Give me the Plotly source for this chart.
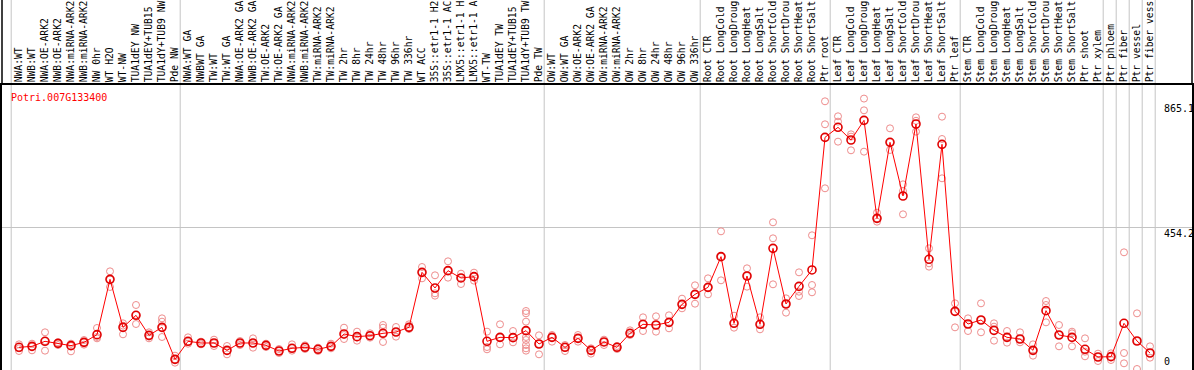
import plotly.graph_objects as go

categories = [
    "NWA:WT", "NWB:WT", "NWA:OE-ARK2", "NWB:OE-ARK2", "NWA:miRNA-ARK2", "NWB:miRNA-ARK2",
    "NW 0hr", "WT H2O", "WT-NW", "TUA1dEY NW", "TUA1dEY+TUB15", "TUA1dY+TUB9 NW", "Pde NW",
    "NWA:WT GA", "NWBWT GA", "TW:WT", "TW:WT GA", "NWA:OE-ARK2 GA", "NWB:OE-ARK2 GA",
    "TW:OE-ARK2", "TW:OE-ARK2 GA", "NWA:miRNA-ARK2", "NWB:miRNA-ARK2", "TW:miRNA-ARK2",
    "TW:miRNA-ARK2", "TW 2hr", "TW 8hr", "TW 24hr", "TW 48hr", "TW 96hr", "TW 336hr",
    "WT ACC", "35S::etr1-1 H2", "35S::etr1-1 AC", "LMX5::etr1-1 H", "LMX5::etr1-1 A",
    "WT-TW", "TUA1dEY TW", "TUA1dEY+TUB15", "TUA1dY+TUB9 TW", "Pde TW",
    "OW:WT", "OW:WT GA", "OW:OE-ARK2", "OW:OE-ARK2 GA", "OW:miRNA-ARK2", "OW:miRNA-ARK2",
    "OW 2hr", "OW 8hr", "OW 24hr", "OW 48hr", "OW 96hr", "OW 336hr",
    "Root CTR", "Root LongCold", "Root LongDroug", "Root LongHeat", "Root LongSalt",
    "Root ShortCold", "Root ShortDrou", "Root ShortHeat", "Root ShortSalt", "Ptr root",
    "Leaf CTR", "Leaf LongCold", "Leaf LongDroug", "Leaf LongHeat", "Leaf LongSalt",
    "Leaf ShortCold", "Leaf ShortDrou", "Leaf ShortHeat", "Leaf ShortSalt", "Ptr leaf",
    "Stem CTR", "Stem LongCold", "Stem LongDroug", "Stem LongHeat", "Stem LongSalt",
    "Stem ShortCold", "Stem ShortDrou", "Stem ShortHeat", "Stem ShortSalt", "Ptr shoot",
    "Ptr xylem", "Ptr phloem", "Ptr fiber", "Ptr vessel", "Ptr fiber vess",
]

mean_values = [
    72.3, 75.4, 91.4, 85.0, 77.6, 88.2, 112.6, 289.0, 136.0, 174.3, 110.5, 136.0, 34.0,
    91.4, 86.1, 86.1, 62.7, 86.1, 86.1, 78.6, 60.6, 69.1, 72.3, 65.9, 75.4, 114.8, 106.3,
    109.4, 116.9, 121.1, 136.0, 311.3, 261.4, 316.6, 293.3, 297.5, 91.4, 104.1, 103.1,
    125.4, 82.9,
    104.1, 72.3, 100.9, 62.7, 89.3, 72.3, 116.9, 145.6, 143.4, 151.9, 209.3, 241.2,
    263.5, 361.3, 148.8, 299.6, 145.6, 387.8, 210.4, 266.7, 318.8, 741.6,
    773.5, 733.1, 795.8, 483.4, 725.7, 554.6, 784.1, 352.8, 719.3, 187.0,
    146.6, 159.4, 126.4, 104.1, 98.8, 62.7, 189.1, 111.6, 104.1, 65.9,
    41.4, 42.5, 148.8, 92.4, 54.2,
]

replicate_values = [
    [81.8, 69.1, 60.6], [83.9, 74.4, 62.7], [120.1, 92.4, 61.6], [88.2, 85.0, 79.7],
    [83.9, 76.5, 59.5], [95.6, 88.2, 80.8], [133.9, 105.2, 100.9], [314.5, 289.0, 264.6],
    [148.8, 141.3, 113.7], [207.2, 175.3, 146.6], [120.1, 106.3, 100.9],
    [164.7, 154.1, 134.9, 105.2], [45.7, 34.0, 23.4],
    [104.1, 90.3, 83.9], [90.3, 85.0, 81.8], [96.7, 85.0, 76.5], [76.5, 61.6, 49.9],
    [92.4, 85.0, 79.7], [100.9, 85.0, 71.2], [83.9, 78.6, 73.3], [66.9, 60.6, 54.2],
    [81.8, 69.1, 61.6], [78.6, 72.3, 66.9], [71.2, 65.9, 60.6], [83.9, 75.4, 69.1],
    [134.9, 111.6, 98.8], [122.2, 104.1, 93.5], [116.9, 109.4, 103.1],
    [143.4, 134.9, 116.9, 89.3], [137.1, 121.1, 106.3], [145.6, 136.0, 130.7],
    [328.3, 311.3, 292.2], [301.8, 244.4, 236.9], [346.4, 316.6, 294.3],
    [307.1, 293.3, 274.1], [310.3, 297.5, 284.8], [122.2, 73.3, 65.9],
    [145.6, 104.1, 81.8], [124.3, 103.1, 88.2],
    [188.1, 180.6, 154.1, 125.4, 105.2, 95.6, 79.7, 69.1, 61.6], [110.5, 82.9, 49.9],
    [111.6, 104.1, 90.3], [79.7, 72.3, 60.6], [111.6, 100.9, 90.3], [69.1, 62.7, 52.1],
    [96.7, 89.3, 79.7], [76.5, 72.3, 66.9], [126.4, 116.9, 111.6], [167.9, 145.6, 124.3],
    [171.1, 143.4, 122.2], [174.3, 151.9, 132.8], [227.4, 209.3, 196.6],
    [269.9, 241.2, 211.4],
    [292.2, 263.5, 241.2], [442.0, 361.3, 285.8], [173.2, 148.8, 134.9],
    [324.1, 299.6, 265.6], [167.9, 145.6, 129.6], [470.7, 419.7, 273.1],
    [228.4, 210.4, 182.8], [311.3, 249.7, 235.9], [429.3, 270.9, 247.6],
    [856.4, 783.1, 579.1],
    [808.6, 791.6, 727.8], [751.2, 743.8, 700.2], [865.1, 827.7, 695.9],
    [501.5, 483.4, 472.8], [770.3, 725.7, 701.3], [591.8, 570.6, 496.2],
    [805.4, 794.4, 759.7], [387.8, 340.0, 329.4], [807.5, 736.3, 611.0],
    [212.5, 185.9, 136.0],
    [164.7, 146.6, 124.3], [212.5, 159.4, 120.1], [148.8, 138.1, 93.5],
    [124.3, 104.1, 87.1], [120.1, 98.8, 88.2], [81.8, 62.7, 45.7], [219.9, 207.2, 151.9],
    [143.4, 111.6, 75.4], [122.2, 116.9, 75.4], [100.9, 58.4, 43.6],
    [52.1, 41.4, 28.7], [53.1, 42.5, 31.9], [375.1, 54.2, 21.3], [180.6, 92.4, 3.2],
    [75.4, 54.2, 39.3],
]

gene_name = "Potri.007G133400"
y_max_label = 865.1
y_mid_label = 454.2
y_axis_max = 908.4
group_breaks = [-0.5, 12.5, 40.5, 52.5, 62.5, 72.5, 83.5, 84.5, 85.5, 86.5, 87.5]

W, H = 1194, 370
ML, MR, MT, MB = 2, 2, 85, 0
plot_w = W - ML - MR
plot_h = H - MT - MB
step = 13.0
x0 = -(19 - ML) / step
x1 = x0 + plot_w / step

idx = list(range(len(categories)))
rep_x, rep_y = [], []
for i, reps in enumerate(replicate_values):
    for v in reps:
        rep_x.append(i)
        rep_y.append(v)

fig = go.Figure()
fig.add_trace(go.Scatter(
    x=rep_x, y=rep_y, mode="markers",
    marker=dict(symbol="circle-open", size=7, color="#ee8c8c", line=dict(width=1, color="#ee8c8c")),
    hoverinfo="y", showlegend=False, cliponaxis=False,
))
fig.add_trace(go.Scatter(
    x=idx, y=mean_values, mode="lines+markers",
    line=dict(color="#ff0000", width=1),
    marker=dict(symbol="circle-open", size=8, color="#e00000", line=dict(width=1.6, color="#e00000")),
    showlegend=False, cliponaxis=False,
))

header_top = 1 + MT / plot_h
shapes = []
for b in group_breaks:
    shapes.append(dict(type="line", xref="x", yref="paper", x0=b - 0.1, x1=b - 0.1,
                       y0=0, y1=header_top, line=dict(color="#c4c4c4", width=1), layer="below"))
for xp in (0, 1):
    shapes.append(dict(type="line", xref="paper", yref="paper", x0=xp, x1=xp,
                       y0=1, y1=header_top, line=dict(color="black", width=1.5)))

mono = "DejaVu Sans Mono"
annotations = [
    dict(text=gene_name, xref="paper", yref="paper", x=(9 - ML) / plot_w, y=1 - 12.5 / plot_h,
         xanchor="left", yanchor="middle", showarrow=False,
         font=dict(family=mono, size=10, color="#ff0000")),
    dict(text=f"{y_max_label}", xref="paper", yref="y", x=(1162 - ML) / plot_w, y=y_max_label,
         xanchor="left", yanchor="top", yshift=-2, showarrow=False,
         font=dict(family=mono, size=10, color="black")),
    dict(text=f"{y_mid_label}", xref="paper", yref="y", x=(1162 - ML) / plot_w, y=y_mid_label,
         xanchor="left", yanchor="top", yshift=2, showarrow=False,
         font=dict(family=mono, size=10, color="black")),
    dict(text="0", xref="paper", yref="y", x=(1162 - ML) / plot_w, y=0,
         xanchor="left", yanchor="bottom", yshift=1, showarrow=False,
         font=dict(family=mono, size=10, color="black")),
]

fig.update_layout(
    width=W, height=H,
    margin=dict(l=ML, r=MR, t=MT, b=MB, pad=0, autoexpand=False),
    paper_bgcolor="white", plot_bgcolor="white",
    shapes=shapes, annotations=annotations,
    xaxis=dict(
        range=[x0, x1], side="top", tickmode="array", tickvals=idx, ticktext=categories,
        tickangle=-90, ticks="", showgrid=False, zeroline=False, automargin=False,
        ticklabelstandoff=-1,
        showline=True, linecolor="black", linewidth=1.5, mirror=True,
        tickfont=dict(family=mono, size=9.7, color="black"),
    ),
    yaxis=dict(
        range=[0, y_axis_max], tickmode="array", tickvals=[y_mid_label], showticklabels=False,
        showgrid=True, gridcolor="#c4c4c4", gridwidth=1, zeroline=False, automargin=False,
        showline=True, linecolor="black", linewidth=1.5, mirror=True, ticks="",
    ),
)

fig.write_html(
    "out.html",
    config={"displayModeBar": False},
    post_script="document.body.style.margin='0px';document.body.style.overflow='hidden';",
)
